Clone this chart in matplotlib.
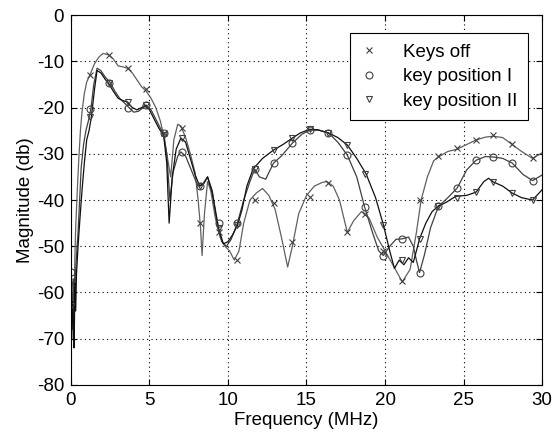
import matplotlib
matplotlib.use("Agg")
import matplotlib.pyplot as plt

# curves (frequency in MHz, magnitude in dB)
keys_off_f = [0.0, 0.05, 0.1, 0.15, 0.2, 0.25, 0.3, 0.4, 0.5, 0.6, 0.7, 0.85, 1.0, 1.2, 1.5, 1.8,
              2.05, 2.4, 2.7, 3.0, 3.3, 3.6, 3.9, 4.2, 4.5, 4.8, 5.1, 5.4, 5.7, 5.9, 6.1, 6.35,
              6.55, 6.8, 7.0, 7.3, 7.6, 7.9, 8.1, 8.25, 8.35, 8.5, 8.7, 8.9, 9.2, 9.5, 9.8, 10.1,
              10.4, 10.7, 11.0, 11.4, 11.8, 12.2, 12.6, 13.0, 13.4, 13.8, 14.1, 14.5, 15.0, 15.5,
              16.0, 16.3, 16.7, 17.1, 17.6, 18.0, 18.5, 19.0, 19.5, 20.0, 20.5, 21.1, 21.6, 22.0,
              22.3, 22.7, 23.1, 23.5, 24.0, 24.6, 25.2, 25.8, 26.4, 26.9, 27.5, 28.1, 28.7, 29.4, 30.0]
keys_off_db = [-62, -57, -68, -58, -63, -52, -46, -38, -31, -25, -21, -17, -14.5, -13, -10.5, -9,
               -8.3, -8.6, -9.5, -11, -11.2, -11.5, -12.5, -14, -15.5, -16.5, -18, -20, -23, -26, -30, -35,
               -27, -23.6, -24, -26.5, -30, -34, -40, -46, -52, -43, -36, -38, -44, -48, -50, -51,
               -53, -51, -45, -40, -38.5, -37.5, -39, -42, -48, -54.5, -50, -43, -39, -37,
               -36.2, -36, -37, -40, -47, -44.5, -42.5, -44, -48, -51, -54, -57.7, -55, -47,
               -40, -35, -31.5, -30.5, -29.5, -29, -28, -27, -26.4, -26.2, -26.5, -28, -29.5, -31, -29.8]

key1_f = [0.0, 0.05, 0.1, 0.15, 0.2, 0.25, 0.3, 0.35, 0.45, 0.55, 0.65, 0.8, 0.95, 1.1, 1.27, 1.45,
          1.66, 1.9, 2.2, 2.5, 2.8, 3.1, 3.4, 3.75, 4.0, 4.3, 4.6, 4.8, 5.1, 5.4, 5.7, 5.9,
          6.1, 6.3, 6.5, 6.8, 7.0, 7.3, 7.6, 7.9, 8.1, 8.4, 8.7, 9.0, 9.3, 9.6, 9.9, 10.2,
          10.6, 11.0, 11.4, 11.7, 12.0, 12.4, 12.9, 13.4, 14.1, 14.7, 15.2, 15.8, 16.4, 17.0,
          17.6, 18.2, 18.7, 19.2, 19.6, 19.9, 20.3, 20.7, 21.1, 21.5, 21.8, 22.0, 22.2, 22.5,
          22.9, 23.4, 24.0, 24.6, 25.2, 25.8, 26.4, 26.9, 27.5, 28.1, 28.8, 29.4, 30.0]
key1_db = [-56, -65, -60, -68, -57, -62, -55, -52, -47, -40, -33, -28, -25, -23, -20.3, -15,
           -11.5, -12, -13.5, -14.6, -16.5, -18, -19, -20.2, -21, -20.8, -20, -19.5, -20.5, -22.5, -24.5, -25.6,
           -30, -40, -34, -30.5, -29.6, -30.5, -33, -35.5, -37, -36.5, -35, -38, -45, -49, -50, -48.5,
           -45, -40, -36, -33.3, -35, -35.5, -32, -30.5, -27.7, -25.8, -24.9, -24.9, -25.5, -27.5,
           -30.3, -35, -41.5, -47, -51, -52, -50, -48.5, -48.4, -48, -50, -53, -55.7, -52,
           -46, -41.4, -39.5, -37.4, -33.5, -31.4, -30.6, -30.7, -31, -32, -34.5, -35.8, -34.6]

key2_f = [0.0, 0.05, 0.1, 0.15, 0.2, 0.25, 0.3, 0.35, 0.45, 0.55, 0.7, 0.85, 1.0, 1.15, 1.3, 1.5,
          1.66, 1.9, 2.2, 2.4, 2.7, 3.0, 3.3, 3.6, 3.9, 4.2, 4.5, 4.75, 5.0, 5.3, 5.6, 5.9,
          6.1, 6.25, 6.45, 6.7, 7.0, 7.3, 7.6, 7.9, 8.2, 8.45, 8.7, 9.0, 9.4, 9.7, 10.0, 10.3,
          10.6, 10.9, 11.2, 11.6, 12.2, 12.9, 13.5, 14.1, 14.6, 15.2, 15.7, 16.4, 17.0, 17.6,
          18.2, 18.8, 19.4, 19.9, 20.3, 20.6, 20.9, 21.2, 21.5, 21.8, 22.0, 22.2, 22.6, 23.0,
          23.4, 23.9, 24.5, 25.2, 25.8, 26.3, 26.6, 26.9, 27.5, 28.1, 28.7, 29.4, 30.0]
key2_db = [-60, -70, -62, -66, -72, -58, -64, -56, -50, -45, -38, -32, -27, -25, -22, -16,
           -12, -12.5, -14, -14.8, -16.5, -18, -18.5, -18.8, -20, -20.5, -20, -19.5, -20.5, -22.5, -24.5, -26,
           -32, -45, -35, -29, -26.6, -27.5, -31, -34.5, -37, -36.5, -35, -38.5, -46, -49.5, -49, -47.5,
           -45.5, -42, -37, -33.3, -31, -29.2, -28, -26.6, -25.5, -24.7, -24.8, -25.5, -26.5, -28.1,
           -31, -34.4, -39.5, -45.4, -51, -54.8, -53, -54, -52.5, -53.5, -51, -48.4, -45, -42.5,
           -41.3, -40.5, -39.2, -39, -38.3, -36, -35.3, -36.1, -37, -38.5, -39.5, -40, -37.8]

# marker positions (every ~1.18 MHz) and the values at them
mark_f = [0, 1.2, 2.4, 3.6, 4.75, 5.9, 7.05, 8.2, 9.4, 10.6, 11.7, 12.9, 14.1,
          15.2, 16.4, 17.6, 18.75, 19.9, 21.1, 22.25, 23.4, 24.6, 25.8, 26.9, 28.1, 29.4]
keys_off_mark = [-58, -13, -8.6, -11.5, -16, -25.5, -24.4, -45, -47, -53, -40, -40.7, -49,
                 -39.3, -36.3, -47, -43, -51, -57.5, -40, -30.5, -28.8, -27, -26, -27.8, -31]
key1_mark = [-55.5, -20.3, -14.6, -20, -19.5, -25.6, -29.7, -37, -45, -45, -33.3, -32, -27.7,
             -24.9, -25.5, -30.3, -41.5, -52, -48.4, -55.7, -41.4, -37.4, -31.4, -30.7, -32, -35.8]
key2_mark = [-63, -22, -14.8, -18.8, -19.5, -26, -26.6, -37, -46, -45.5, -33.3, -29.2, -26.6,
             -24.7, -25.5, -28.1, -34.4, -45.4, -53, -48.4, -41.3, -39.5, -38.3, -36.1, -38.5, -40]

labels = ["Keys off", "key position I", "key position II"]
x_ticks = [0, 5, 10, 15, 20, 25, 30]
y_ticks = [0, -10, -20, -30, -40, -50, -60, -70, -80]

plt.rcParams["font.family"] = ["Liberation Sans", "DejaVu Sans"]
plt.rcParams["font.size"] = 13.5
plt.rcParams["axes.unicode_minus"] = False

fig = plt.figure(figsize=(5.52, 4.43), dpi=100)
ax = fig.add_axes([0.1286, 0.131, 0.8533, 0.835])

ax.plot(keys_off_f, keys_off_db, color="#606060", lw=0.9)
ax.plot(key1_f, key1_db, color="#404040", lw=0.9)
ax.plot(key2_f, key2_db, color="#101010", lw=0.9)

ax.plot(mark_f, keys_off_mark, ls="none", marker="x", ms=4, mew=0.8,
        color="#404040", label=labels[0])
ax.plot(mark_f, key1_mark, ls="none", marker="o", ms=5, mew=0.8, mfc="none",
        color="#404040", label=labels[1])
ax.plot(mark_f, key2_mark, ls="none", marker="v", ms=5, mew=0.8, mfc="none",
        color="#404040", label=labels[2])

ax.set_xlim(0, 30)
ax.set_ylim(-80, 0)
ax.set_xticks(x_ticks)
ax.set_yticks(y_ticks)
ax.grid(True, color="black", ls=(0, (1, 3)), lw=0.8)
ax.tick_params(direction="in", top=True, right=True, length=4, width=0.8, pad=5)
for s in ax.spines.values():
    s.set_linewidth(0.8)

ax.set_xlabel("Frequency (MHz)", labelpad=2)
ax.set_ylabel("Magnitude (db)", labelpad=2)

leg = ax.legend(loc="upper right", bbox_to_anchor=(0.97, 0.951), borderaxespad=0,
                fancybox=False, framealpha=1, edgecolor="black", handlelength=1.0,
                handletextpad=1.3, labelspacing=0.4, borderpad=0.55)
leg.get_frame().set_linewidth(0.8)

plt.savefig("out.png", dpi=100)
